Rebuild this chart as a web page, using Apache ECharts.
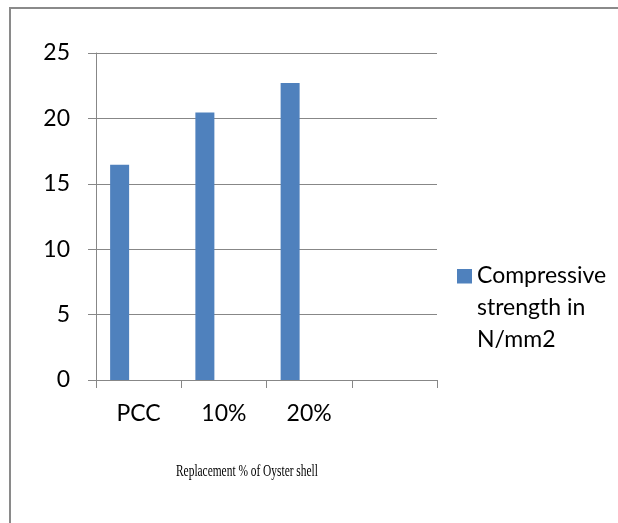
<!DOCTYPE html>
<html>
<head>
<meta charset="utf-8">
<script src="https://cdn.jsdelivr.net/npm/echarts@6/dist/echarts.min.js"></script>
<style>html,body{margin:0;padding:0;background:#fff}#c{width:618px;height:523px}</style>
</head>
<body>
<div id="c"></div>
<script>
const categories = ['PCC', '10%', '20%', ''];
const strength = [16.45, 20.45, 22.7, '-'];
const emptyA = ['-', '-', '-', '-'];
const emptyB = ['-', '-', '-', '-'];
const seriesName = 'Compressive\nstrength in\nN/mm2';
const axisTitle = 'Replacement % of Oyster shell';

const gray = '#878787';
const font = 'Lato';
const chart = echarts.init(document.getElementById('c'), null, {renderer: 'canvas'});
chart.setOption({
  animation: false,
  backgroundColor: '#fff',
  grid: {left: 96, right: 181, top: 53, bottom: 143, containLabel: false},
  legend: {
    data: [{name: seriesName, icon: 'path://M0,0L0.001,0M0,9H15V23.5H0ZM0,96L0.001,96'}],
    left: 457, top: 260,
    padding: 0,
    orient: 'vertical',
    itemWidth: 15, itemHeight: 96,
    textStyle: {fontFamily: font, fontSize: 23, color: '#000', lineHeight: 32},
    selectedMode: false
  },
  xAxis: {
    type: 'category',
    data: categories,
    axisLine: {lineStyle: {color: gray, width: 1}},
    axisTick: {show: true, length: 8, interval: 0, lineStyle: {color: gray}},
    axisLabel: {interval: 0, margin: 22, fontFamily: font, fontSize: 23, color: '#000'},
    splitLine: {show: false}
  },
  yAxis: {
    type: 'value',
    min: 0, max: 25, interval: 5,
    axisLine: {show: true, lineStyle: {color: gray, width: 1}},
    axisTick: {show: true, length: 8, lineStyle: {color: gray}},
    axisLabel: {margin: 26, fontFamily: font, fontSize: 23, color: '#000'},
    splitLine: {show: true, lineStyle: {color: gray, width: 1}}
  },
  series: [
    {name: seriesName, type: 'bar', data: strength, barWidth: 19, barGap: '0%', itemStyle: {color: '#4F81BD'}},
    {name: 's2', type: 'bar', data: emptyA, barWidth: 19, barGap: '0%', itemStyle: {color: '#C0504D'}},
    {name: 's3', type: 'bar', data: emptyB, barWidth: 19, barGap: '0%', itemStyle: {color: '#9BBB59'}}
  ],
  graphic: [
    {type: 'rect', shape: {x: 10, y: 8, width: 700, height: 600}, style: {fill: 'none', stroke: '#8a8a8a', lineWidth: 2}, silent: true},
    {type: 'text', x: 176, y: 464, scaleX: 0.713, style: {text: axisTitle, fontFamily: 'Liberation Serif', fontSize: 16, fill: '#000'}}
  ]
});
</script>
</body>
</html>
